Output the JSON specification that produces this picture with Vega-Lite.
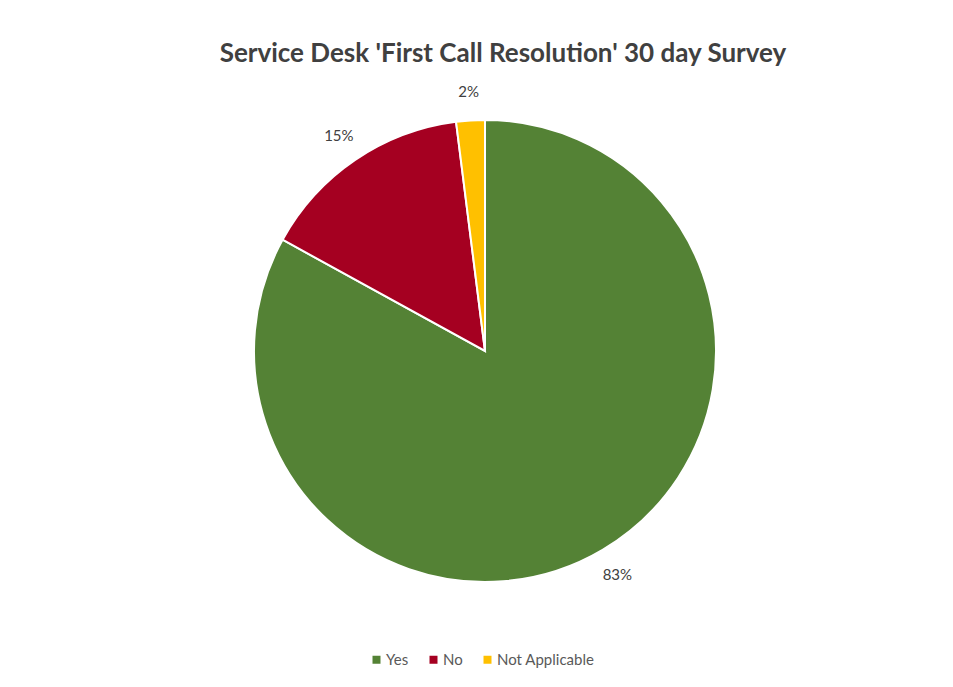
{
  "$schema": "https://vega.github.io/schema/vega-lite/v6.json",
  "autosize": "none",
  "width": 936,
  "height": 578,
  "padding": {"left": 17, "top": 62, "right": 0, "bottom": 47},
  "background": "white",
  "title": {
    "text": "Service Desk 'First Call Resolution' 30 day Survey",
    "font": "Lato",
    "fontSize": 26,
    "fontWeight": "bold",
    "color": "#404040",
    "anchor": "middle",
    "dx": 18,
    "offset": -5
  },
  "data": {
    "values": [
      {"answer": "Yes", "value": 83, "label": "83%", "rank": 1},
      {"answer": "No", "value": 15, "label": "15%", "rank": 2},
      {"answer": "Not Applicable", "value": 2, "label": "2%", "rank": 3}
    ]
  },
  "encoding": {
    "theta": {"field": "value", "type": "quantitative", "stack": true},
    "order": {"field": "rank", "type": "ordinal"}
  },
  "layer": [
    {
      "mark": {"type": "arc", "outerRadius": 231, "stroke": "white", "strokeWidth": 2},
      "encoding": {
        "color": {
          "field": "answer",
          "type": "nominal",
          "scale": {"domain": ["Yes", "No", "Not Applicable"], "range": ["#548235", "#A50021", "#FFC000"]},
          "legend": {
            "title": null,
            "orient": "none",
            "legendX": 352,
            "legendY": 590,
            "direction": "horizontal",
            "symbolType": "square",
            "symbolSize": 64,
            "symbolStrokeWidth": 0,
            "labelFont": "Lato",
            "labelFontSize": 15,
            "labelColor": "#595959",
            "labelOffset": 2,
            "columnPadding": 17
          }
        }
      }
    },
    {
      "mark": {"type": "text", "radius": 260, "font": "Lato", "fontSize": 15, "color": "#404040"},
      "encoding": {"text": {"field": "label"}}
    }
  ]
}
